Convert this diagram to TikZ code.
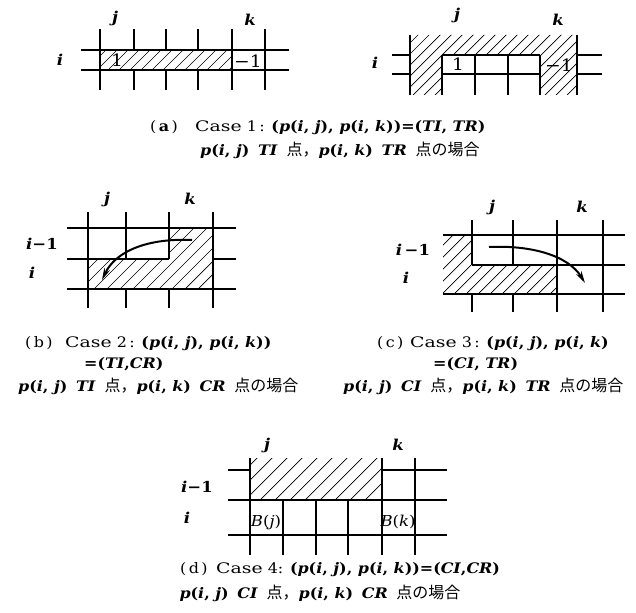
\documentclass[tikz,border=0pt]{standalone}
\usepackage{fontspec}
\setmainfont[FakeStretch=1.1]{DejaVu Serif}
\newfontfamily\wide[FakeStretch=1.3]{DejaVu Serif}
\newfontfamily\cjk{Noto Sans CJK JP}
\usetikzlibrary{arrows.meta}
\newcommand\bi[1]{\textbf{\textit{#1}}}
\newcommand\pp[1]{{\bfseries\textit{p}(\textit{i}, \textit{#1})}}
\newcommand\jp[1]{{\cjk\fontsize{16}{18}\selectfont #1}}
\newcommand\cs[2]{\makebox[#1pt][l]{(\,#2\,)}{\wide Case}}
\newcommand\sep{\hspace{0.6em}}
\newcommand\hatchin[2]{\begin{scope}\clip #2;\foreach \s in {-640,-#1,...,660}{\draw[hatchline] (\s,620)--++(620,-620);}\end{scope}}
\begin{document}
\begin{tikzpicture}[x=1pt,y=-1pt,
  grid/.style={line width=1.5pt},
  hatchline/.style={line width=0.7pt},
  flow/.style={line width=2pt,-{Stealth[length=12pt,width=6pt]}},
  lab/.style={font=\fontsize{15}{17}\selectfont,inner sep=0pt},
  labm/.style={font=\fontsize{15}{17}\selectfont,inner sep=0pt},
  cell/.style={font=\fontsize{17}{19}\selectfont,inner sep=0pt},
  captxt/.style={font=\fontsize{14.5}{16}\selectfont,inner sep=0pt,anchor=west}]
\useasboundingbox (0,0) rectangle (636,612);
% ---------- (a) left
\hatchin{629}{(100,50) rectangle (232,70)}
\draw[grid] (81,50)--(289,50) (81,70)--(289,70);
\draw[grid] (100,29)--(100,90) (232,29)--(232,90) (265,29)--(265,90);
\foreach \x in {134,166,198}{\draw[grid] (\x,29)--(\x,50) (\x,70)--(\x,90);}
\node[cell] (a1) at (117,60) {1};
\node[cell] (a2) at (248,61) {−1};
\node[lab] (aj) at (115,18) {\bi{j}};
\node[lab] (ak) at (250,20) {\bi{k}};
\node[lab] (ai) at (60,60) {\bi{i}};
% ---------- (a) right
\hatchin{629}{(410,35) -- (577,35) -- (577,95) -- (540,95) -- (540,55) -- (442,55) -- (442,95) -- (410,95) -- cycle}
\draw[grid] (392,55)--(410,55) (392,74)--(410,74) (577,55)--(602,55) (577,74)--(602,74);
\draw[grid] (442,55)--(540,55) (442,74)--(540,74);
\draw[grid] (410,35)--(410,95) (577,35)--(577,95);
\foreach \x in {442,475,508,540}{\draw[grid] (\x,55)--(\x,95);}
\node[cell] (b1) at (458,64) {1};
\node[cell] (b2) at (559,65) {−1};
\node[lab] (bj) at (457,15) {\bi{j}};
\node[lab] (bk) at (558,20) {\bi{k}};
\node[lab] (bi) at (375,63) {\bi{i}};
% caption (a)
\node[captxt] (ca1) at (150,128) {\cs{45}{\textbf{a}} 1\,: {\bfseries(\pp{j}, \pp{k})=(\textit{TI}, \textit{TR})}};
\node[captxt] (ca2) at (200,150) {\pp{j}\sep\bi{TI}\sep\jp{点，}\pp{k}\sep\bi{TR}\sep\jp{点の場合}};
% ---------- (b)
\hatchin{627}{(88,259) -- (169,259) -- (169,228) -- (213,228) -- (213,289) -- (88,289) -- cycle}
\draw[grid] (67,228)--(236,228) (67,259)--(169,259) (213,259)--(236,259) (67,289)--(236,289);
\draw[grid] (88,212)--(88,308) (213,212)--(213,308);
\foreach \x in {126,169}{\draw[grid] (\x,212)--(\x,259) (\x,289)--(\x,308);}
\coordinate (bs) at (192,240);
\coordinate (be) at (102,280);
\draw[flow] (bs) .. controls (150,238) and (116,250) .. (be);
\node[lab] (cj) at (107,199) {\bi{j}};
\node[lab] (ck) at (190,199) {\bi{k}};
\node[labm] (ci1) at (42,244) {\bi{i}\textbf{−1}};
\node[lab] (ci) at (32,273) {\bi{i}};
\node[captxt] (cb1) at (25,344) {\cs{40}{b} 2\,: {\bfseries(\pp{j}, \pp{k})}};
\node[captxt] (cb2) at (84,364) {{\bfseries=(\textit{TI},\textit{CR})}};
\node[captxt] (cb3) at (18,386) {\pp{j}\sep\bi{TI}\sep\jp{点，}\pp{k}\sep\bi{CR}\sep\jp{点の場合}};
% ---------- (c)
\hatchin{628}{(443,235) -- (472,235) -- (472,265) -- (557,265) -- (557,294) -- (443,294) -- cycle}
\draw[grid] (443,235)--(625,235) (472,265)--(625,265) (443,294)--(625,294);
\draw[grid] (557,220)--(557,312) (603,220)--(603,312);
\foreach \x in {472,513}{\draw[grid] (\x,220)--(\x,265) (\x,294)--(\x,312);}
\coordinate (cs) at (489,247);
\coordinate (ce) at (585,283);
\draw[flow] (cs) .. controls (530,245) and (568,255) .. (ce);
\node[lab] (dj) at (492,207) {\bi{j}};
\node[lab] (dk) at (582,207) {\bi{k}};
\node[labm] (di1) at (413,250) {\bi{i}\,\textbf{−1}};
\node[lab] (di) at (406,278) {\bi{i}};
\node[captxt] (cc1) at (377,344) {\cs{33}{c} 3\,: {\bfseries(\pp{j}, \pp{k}}};
\node[captxt] (cc2) at (433,364) {{\bfseries=(\textit{CI}, \textit{TR})}};
\node[captxt] (cc3) at (343,386) {\pp{j}\sep\bi{CI}\sep\jp{点，}\pp{k}\sep\bi{TR}\sep\jp{点の場合}};
% ---------- (d)
\hatchin{625}{(250,458) rectangle (382,500)}
\draw[grid] (228,470)--(250,470) (382,470)--(447,470) (228,500)--(447,500) (228,535)--(447,535);
\draw[grid] (250,458)--(250,555) (382,458)--(382,555) (415,458)--(415,555);
\foreach \x in {283,316,348}{\draw[grid] (\x,500)--(\x,555);}
\node[cell,font=\fontsize{15}{17}\selectfont] (e1) at (266,522) {\textit{B}(\textit{j})};
\node[cell,font=\fontsize{15}{17}\selectfont] (e2) at (398,522) {\textit{B}(\textit{k})};
\node[lab] (ej) at (267,445) {\bi{j}};
\node[lab] (ek) at (398,445) {\bi{k}};
\node[labm] (ei1) at (197,487) {\bi{i}\textbf{−1}};
\node[lab] (ei) at (187,518) {\bi{i}};
\node[captxt] (cd1) at (180,570) {\cs{36}{d} 4: {\bfseries(\pp{j}, \pp{k})=(\textit{CI},\textit{CR})}};
\node[captxt,anchor=center] (cd2) at (320,593) {\pp{j}\sep\bi{CI}\sep\jp{点，}\pp{k}\sep\bi{CR}\sep\jp{点の場合}};
\end{tikzpicture}
\end{document}
